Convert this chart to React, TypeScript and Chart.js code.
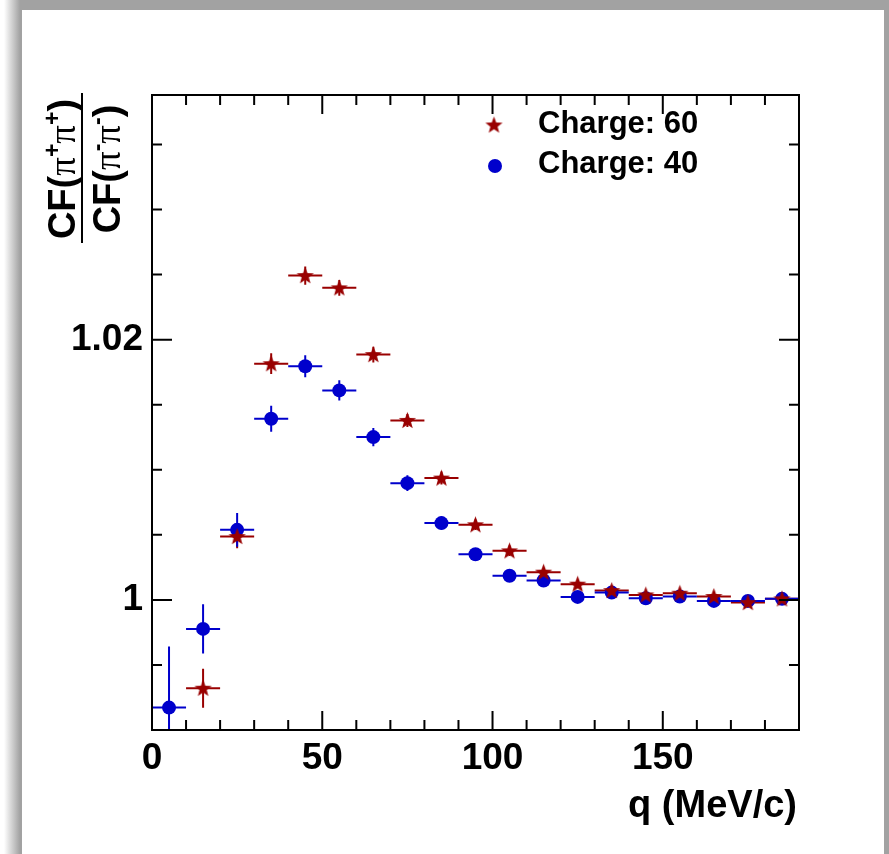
import React, { useEffect, useRef } from "react";
import { Chart, registerables } from "chart.js";

Chart.register(...registerables);

const qBins = [5, 15, 25, 35, 45, 55, 65, 75, 85, 95, 105, 115, 125, 135, 145, 155, 165, 175, 185];
const binHalfWidth = 5;

const charge60 = [null, 0.99321, 1.00487, 1.01815, 1.02492, 1.02398, 1.01885, 1.01379, 1.00936, 1.00577, 1.00377, 1.00213, 1.00121, 1.00072, 1.00038, 1.00051, 1.00026, 0.99979, 1.00008];
const charge60Err = [null, 0.0015, 0.0009, 0.0008, 0.0007, 0.0006, 0.0006, 0.0005, 0.0005, 0.0004, 0.0004, 0.0003, 0.0003, 0.0003, 0.0003, 0.0003, 0.0003, 0.0003, 0.0003];

const charge40 = [0.99172, 0.99777, 1.00538, 1.01392, 1.01795, 1.0161, 1.01251, 1.00897, 1.0059, 1.00351, 1.00185, 1.00149, 1.00023, 1.00056, 1.00013, 1.00026, 0.99992, 0.99992, 1.00008];
const charge40Err = [0.0047, 0.0019, 0.0013, 0.001, 0.00085, 0.00077, 0.0007, 0.0006, 0.0005, 0.0004, 0.0004, 0.0003, 0.0003, 0.0003, 0.0003, 0.0003, 0.0003, 0.0003, 0.0003];

const seriesLabels = ["Charge: 60", "Charge: 40"];
const xTickLabels = [0, 50, 100, 150];
const yTickLabels = [1, 1.02];
const xTitle = "q (MeV/c)";

const RED = "#990000";
const BLUE = "#0000cc";
const FONT = "'Liberation Sans', Arial, sans-serif";

function makeStar(size: number, color: string) {
  const c = document.createElement("canvas");
  c.width = size;
  c.height = size;
  const g = c.getContext("2d")!;
  const cx = size / 2, cy = size / 2 + 0.5;
  const R = size / 2 - 0.5, r = R * 0.42;
  g.beginPath();
  for (let i = 0; i < 10; i++) {
    const ang = -Math.PI / 2 + (i * Math.PI) / 5;
    const rad = i % 2 === 0 ? R : r;
    const px = cx + rad * Math.cos(ang), py = cy + rad * Math.sin(ang);
    if (i === 0) g.moveTo(px, py);
    else g.lineTo(px, py);
  }
  g.closePath();
  g.fillStyle = color;
  g.fill();
  return c;
}

function drawRich(ctx: CanvasRenderingContext2D, runs: { t: string; f: string; dy?: number }[]) {
  let w = 0;
  for (const r of runs) {
    ctx.font = r.f;
    w += ctx.measureText(r.t).width;
  }
  let x = -w / 2;
  for (const r of runs) {
    ctx.font = r.f;
    ctx.fillText(r.t, x, r.dy || 0);
    x += ctx.measureText(r.t).width;
  }
}

export default function App() {
  const ref = useRef<HTMLCanvasElement | null>(null);

  useEffect(() => {
    const canvas = ref.current!;
    const star = makeStar(19, RED);

    const rootPlugin = {
      id: "rootStyle",
      beforeDatasetsDraw(chart: any) {
        const { ctx, chartArea: a, scales } = chart;
        const xs = scales.x, ys = scales.y;
        ctx.save();
        ctx.beginPath();
        ctx.rect(a.left, a.top, a.right - a.left, a.bottom - a.top);
        ctx.clip();
        ctx.lineWidth = 2;
        const sets = [
          { v: charge60, e: charge60Err, c: RED },
          { v: charge40, e: charge40Err, c: BLUE },
        ];
        for (const s of sets) {
          ctx.strokeStyle = s.c;
          qBins.forEach((q, i) => {
            const v = s.v[i];
            const e = s.e[i];
            if (v == null || e == null) return;
            const px = xs.getPixelForValue(q);
            const py = ys.getPixelForValue(v);
            ctx.beginPath();
            ctx.moveTo(xs.getPixelForValue(q - binHalfWidth), py);
            ctx.lineTo(xs.getPixelForValue(q + binHalfWidth), py);
            ctx.moveTo(px, ys.getPixelForValue(v - e));
            ctx.lineTo(px, ys.getPixelForValue(v + e));
            ctx.stroke();
          });
        }
        ctx.restore();
      },
      afterDraw(chart: any) {
        const { ctx, chartArea: a, scales } = chart;
        const xs = scales.x, ys = scales.y;
        ctx.save();
        ctx.strokeStyle = "#000";
        ctx.lineWidth = 2;
        ctx.strokeRect(a.left, a.top, a.right - a.left, a.bottom - a.top);
        ctx.beginPath();
        for (let v = 10; v < 190; v += 10) {
          const px = xs.getPixelForValue(v);
          const len = v % 50 === 0 ? 19 : 10;
          ctx.moveTo(px, a.bottom);
          ctx.lineTo(px, a.bottom - len);
          ctx.moveTo(px, a.top);
          ctx.lineTo(px, a.top + len);
        }
        for (let k = 1; k <= 9; k++) {
          const v = 0.99 + k * 0.005;
          const py = ys.getPixelForValue(v);
          const major = k === 2 || k === 6;
          const len = major ? 20 : 10;
          ctx.moveTo(a.left, py);
          ctx.lineTo(a.left + len, py);
          ctx.moveTo(a.right, py);
          ctx.lineTo(a.right - len, py);
        }
        ctx.stroke();

        ctx.fillStyle = "#000";
        ctx.textAlign = "right";
        ctx.textBaseline = "alphabetic";
        ctx.font = `bold 38px ${FONT}`;
        ctx.fillText(xTitle, a.right - 2, 817);

        ctx.textAlign = "left";
        const fb = `bold 38px ${FONT}`;
        const fp = `37px 'Liberation Serif', 'DejaVu Serif', serif`;
        const fs = `bold 23px ${FONT}`;
        const yc = 169;
        ctx.save();
        ctx.translate(75, yc);
        ctx.rotate(-Math.PI / 2);
        drawRich(ctx, [
          { t: "CF(", f: fb },
          { t: "\u03c0", f: fp },
          { t: "+", f: fs, dy: -15 },
          { t: "\u03c0", f: fp },
          { t: "+", f: fs, dy: -15 },
          { t: ")", f: fb },
        ]);
        ctx.restore();
        ctx.save();
        ctx.translate(120, yc);
        ctx.rotate(-Math.PI / 2);
        drawRich(ctx, [
          { t: "CF(", f: fb },
          { t: "\u03c0", f: fp },
          { t: "-", f: fs, dy: -15 },
          { t: "\u03c0", f: fp },
          { t: "-", f: fs, dy: -15 },
          { t: ")", f: fb },
        ]);
        ctx.restore();
        ctx.beginPath();
        ctx.lineWidth = 2;
        ctx.moveTo(82, 93);
        ctx.lineTo(82, 243);
        ctx.stroke();

        ctx.font = `bold 31px ${FONT}`;
        ctx.textAlign = "left";
        ctx.textBaseline = "alphabetic";
        ctx.drawImage(star, 494 - 9.5, 125 - 9.5);
        ctx.fillText(seriesLabels[0], 538, 133);
        ctx.beginPath();
        ctx.fillStyle = BLUE;
        ctx.arc(495, 166, 7, 0, Math.PI * 2);
        ctx.fill();
        ctx.fillStyle = "#000";
        ctx.fillText(seriesLabels[1], 538, 173);
        ctx.restore();
      },
    };

    const chart = new Chart(canvas, {
      type: "scatter",
      data: {
        datasets: [
          {
            label: seriesLabels[0],
            data: qBins.map((q, i) => ({ x: q, y: charge60[i] as any })),
            pointStyle: star as any,
            pointRadius: 9,
            backgroundColor: RED,
            borderColor: RED,
          },
          {
            label: seriesLabels[1],
            data: qBins.map((q, i) => ({ x: q, y: charge40[i] })),
            pointStyle: "circle",
            pointRadius: 7,
            borderWidth: 0,
            backgroundColor: BLUE,
            borderColor: BLUE,
          },
        ],
      },
      options: {
        animation: false,
        responsive: false,
        events: [],
        layout: { padding: { left: 0, right: 90, top: 95, bottom: 0 } },
        plugins: { legend: { display: false }, tooltip: { enabled: false } },
        scales: {
          x: {
            type: "linear",
            min: 0,
            max: 190,
            afterFit: (s: any) => { s.height = 124; },
            grid: { display: false, drawTicks: false },
            border: { display: false },
            ticks: {
              stepSize: 10,
              autoSkip: false,
              maxRotation: 0,
              padding: 7,
              color: "#000",
              font: { family: FONT, size: 37, weight: "bold" },
              callback: (v: any) => (xTickLabels.includes(Number(v)) ? String(v) : ""),
            },
          },
          y: {
            type: "linear",
            min: 0.99,
            max: 1.0388,
            afterFit: (s: any) => { s.width = 152; },
            grid: { display: false, drawTicks: false },
            border: { display: false },
            ticks: {
              stepSize: 0.005,
              autoSkip: false,
              padding: 9,
              color: "#000",
              font: { family: FONT, size: 37, weight: "bold" },
              callback: (v: any) => {
                const n = Number(v);
                const hit = yTickLabels.find((t) => Math.abs(t - n) < 1e-7);
                return hit !== undefined ? String(hit) : "";
              },
            },
          },
        },
      },
      plugins: [rootPlugin],
    } as any);

    return () => chart.destroy();
  }, []);

  return (
    <div style={{ position: "absolute", left: 0, top: 0, width: 889, height: 854, overflow: "hidden", background: "linear-gradient(to right, #ffffff 0px, #ffffff 4px, #a2a2a2 20px, #a2a2a2 100%)" }}>
      <div style={{ position: "absolute", left: 22, top: 10, width: 862, height: 844, background: "#ffffff" }} />
      <canvas ref={ref} width={889} height={854} style={{ position: "absolute", left: 0, top: 0, width: 889, height: 854 }} />
    </div>
  );
}
